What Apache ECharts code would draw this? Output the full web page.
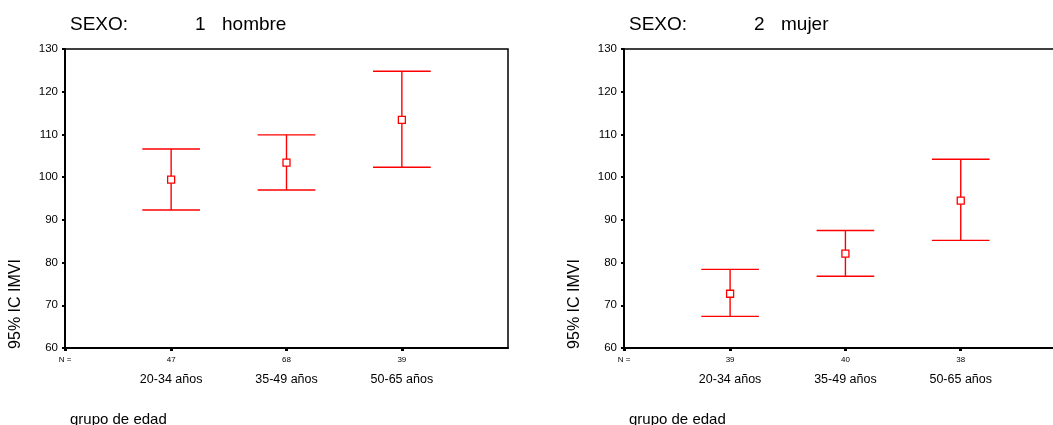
<!DOCTYPE html>
<html>
<head>
<meta charset="utf-8">
<script src="https://cdn.jsdelivr.net/npm/echarts@6/dist/echarts.min.js"></script>
<style>
html,body{margin:0;padding:0;background:#fff;}
#chart{width:1053px;height:425px;}
</style>
</head>
<body>
<div id="chart"></div>
<script>
// ---- data ----
const categories = ['20-34 años', '35-49 años', '50-65 años'];
const nHombre = [47, 68, 39];
const nMujer = [39, 40, 38];
const meanHombre = [99.4, 103.4, 113.4];
const lowHombre = [92.3, 97.0, 102.3];
const highHombre = [106.6, 109.9, 124.8];
const meanMujer = [72.7, 82.1, 94.5];
const lowMujer = [67.4, 76.8, 85.2];
const highMujer = [78.4, 87.5, 104.2];
const yMin = 60, yMax = 130, yStep = 10;
const panelTitles = [['SEXO:', '1', 'hombre'], ['SEXO:', '2', 'mujer']];
const yAxisName = '95% IC IMVI';
const xAxisName = 'grupo de edad';
const nLabel = 'N =';

// ---- layout ----
const FONT = '"Liberation Sans", Arial, Helvetica, sans-serif';
const RED = '#ff0000';
const xMin = 0.08;
const xMaxs = [3.92, 3.80];
const gridLefts = [65, 624];
const gridWidths = [443, 429];
const gridTop = 49, gridH = 299;

const chart = echarts.init(document.getElementById('chart'), null, {renderer: 'canvas'});

function xAxisFor(gi, counts) {
  const vals = [xMin, 1, 2, 3];
  return {
    type: 'value', gridIndex: gi, min: xMin, max: xMaxs[gi], position: 'bottom',
    axisLine: {show: true, onZero: false, lineStyle: {color: '#000', width: 2}},
    axisTick: {show: true, customValues: vals, length: 3, lineStyle: {color: '#000', width: 3}},
    splitLine: {show: false},
    axisLabel: {
      customValues: vals, margin: 7, color: '#000', fontFamily: FONT,
      formatter: function (v) {
        if (v < 0.5) return '{n|' + nLabel + '}';
        const i = Math.round(v) - 1;
        return '{n|' + counts[i] + '}\n{c|' + categories[i] + '}';
      },
      rich: {
        n: {fontSize: 8, lineHeight: 10, color: '#000', fontFamily: FONT},
        c: {fontSize: 12.5, lineHeight: 30, color: '#000', fontFamily: FONT}
      }
    }
  };
}
function topAxisFor(gi) {
  return {
    type: 'value', gridIndex: gi, min: xMin, max: xMaxs[gi], position: 'top',
    axisLine: {show: true, onZero: false, lineStyle: {color: '#000', width: 1.5}},
    axisTick: {show: false}, axisLabel: {show: false}, splitLine: {show: false}
  };
}
function yAxisFor(gi) {
  return {
    type: 'value', gridIndex: gi, min: yMin, max: yMax, interval: yStep,
    axisLine: {show: true, lineStyle: {color: '#000', width: 2}},
    axisTick: {show: true, length: 3, lineStyle: {color: '#000', width: 2}},
    splitLine: {show: false},
    axisLabel: {fontSize: 11.5, color: '#000', fontFamily: FONT, margin: 7}
  };
}
function errSeries(gi, low, high) {
  return {
    type: 'custom', xAxisIndex: gi, yAxisIndex: gi,
    data: categories.map((c, i) => [i + 1, low[i], high[i]]),
    renderItem: function (params, api) {
      const x = api.value(0);
      const lo = api.coord([x, api.value(1)]);
      const hi = api.coord([x, api.value(2)]);
      const hw = api.size([0.25, 0])[0];
      const st = {stroke: RED, lineWidth: 1.4};
      return {type: 'group', children: [
        {type: 'line', shape: {x1: hi[0], y1: hi[1], x2: lo[0], y2: lo[1]}, style: st},
        {type: 'line', shape: {x1: hi[0] - hw, y1: hi[1], x2: hi[0] + hw, y2: hi[1]}, style: st},
        {type: 'line', shape: {x1: lo[0] - hw, y1: lo[1], x2: lo[0] + hw, y2: lo[1]}, style: st}
      ]};
    },
    z: 2, silent: true
  };
}
function meanSeries(gi, mean) {
  return {
    type: 'scatter', xAxisIndex: gi, yAxisIndex: gi,
    data: mean.map((m, i) => [i + 1, m]),
    symbol: 'rect', symbolSize: 7,
    itemStyle: {color: '#fff', borderColor: RED, borderWidth: 1.3, opacity: 1},
    z: 3, silent: true
  };
}

const titles = [];
const graphics = [];
panelTitles.forEach((t, p) => {
  const L = gridLefts[p];
  const ts = {fontSize: 19, fontWeight: 'normal', color: '#000', fontFamily: FONT};
  titles.push({text: t[0], left: L, top: 10, textStyle: ts});
  titles.push({text: t[1], left: L + 125, top: 10, textStyle: ts});
  titles.push({text: t[2], left: L + 152, top: 10, textStyle: ts});
  titles.push({text: xAxisName, left: L, top: 407, textStyle: {fontSize: 15, fontWeight: 'normal', color: '#000', fontFamily: FONT}});
  graphics.push({
    type: 'text', x: L - 49, y: 304, rotation: Math.PI / 2,
    style: {text: yAxisName, fill: '#000', font: '16px ' + FONT, textAlign: 'center', textVerticalAlign: 'middle'}
  });
});

chart.setOption({
  animation: false,
  backgroundColor: '#fff',
  title: titles,
  graphic: graphics,
  grid: gridLefts.map((L, i) => ({
    left: L, top: gridTop, width: gridWidths[i], height: gridH,
    show: i === 0, borderColor: '#000', borderWidth: 1.5, backgroundColor: 'transparent'
  })),
  xAxis: [xAxisFor(0, nHombre), xAxisFor(1, nMujer), topAxisFor(1)],
  yAxis: [yAxisFor(0), yAxisFor(1)],
  series: [
    errSeries(0, lowHombre, highHombre), meanSeries(0, meanHombre),
    errSeries(1, lowMujer, highMujer), meanSeries(1, meanMujer)
  ]
});
</script>
</body>
</html>
